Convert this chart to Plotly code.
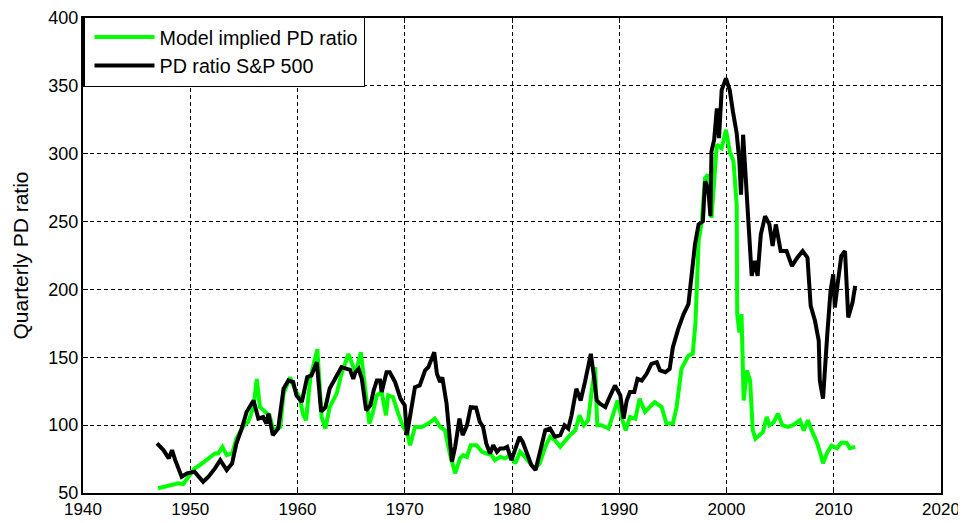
import plotly.graph_objects as go

# Data
sp_years = [1946.9, 1947.5, 1948.0, 1948.3, 1948.6, 1949.2, 1949.7, 1950.4, 1951.2, 1951.7,
            1952.3, 1952.8, 1953.4, 1953.9, 1954.3, 1954.8, 1955.25, 1955.9, 1956.35, 1956.8,
            1957.1, 1957.3, 1957.7, 1958.2, 1958.7, 1959.15, 1959.6, 1959.9, 1960.4, 1960.9,
            1961.3, 1961.5, 1961.8, 1962.2, 1962.6, 1963.0, 1963.35, 1964.1, 1964.9, 1965.2,
            1965.4, 1965.7, 1966.0, 1966.4, 1966.8, 1967.1, 1967.4, 1967.7, 1967.85, 1968.3,
            1968.6, 1969.1, 1969.6, 1970.0, 1970.2, 1970.5, 1970.95, 1971.4, 1971.9, 1972.2,
            1972.45, 1972.75, 1973.0, 1973.3, 1973.5, 1973.9, 1974.4, 1974.7, 1975.1, 1975.4,
            1975.8, 1976.15, 1976.65, 1977.0, 1977.3, 1977.6, 1977.95, 1978.25, 1978.6, 1978.9,
            1979.25, 1979.55, 1979.95, 1980.3, 1980.7, 1981.0, 1981.4, 1981.8, 1982.2, 1982.7,
            1983.1, 1983.55, 1984.0, 1984.5, 1984.9, 1985.25, 1985.55, 1986.0, 1986.4, 1986.8,
            1987.1, 1987.35, 1987.65, 1987.9, 1988.2, 1988.7, 1989.1, 1989.6, 1990.1, 1990.4,
            1990.7, 1991.0, 1991.4, 1991.7, 1992.1, 1992.55, 1993.0, 1993.5, 1993.8, 1994.3,
            1994.7, 1995.0, 1995.5, 1996.0, 1996.45, 1997.06, 1997.4, 1997.8, 1998.0, 1998.3,
            1998.5, 1998.6, 1998.85, 1999.1, 1999.3, 1999.55, 1999.95, 2000.3, 2000.6, 2000.95,
            2001.2, 2001.35, 2001.55, 2001.8, 2002.0, 2002.35, 2002.65, 2002.9, 2003.2, 2003.6,
            2004.0, 2004.3, 2004.6, 2005.05, 2005.6, 2006.1, 2006.6, 2007.1, 2007.55, 2007.85,
            2008.25, 2008.6, 2008.7, 2009.0, 2009.4, 2009.7, 2009.95, 2010.1, 2010.4, 2010.7,
            2011.05, 2011.35, 2011.75, 2012.0]
sp_values = [86.5, 81.6, 75.5, 81.6, 74.2, 62.0, 64.5, 65.7, 58.3, 62.0,
             68.1, 74.2, 66.9, 71.8, 86.5, 97.5, 109.7, 118.2, 104.8, 106.0,
             101.2, 108.5, 92.6, 97.5, 126.8, 132.9, 131.7, 121.9, 117.0, 135.3,
             136.6, 140.0, 146.4, 110.0, 113.0, 127.0, 131.7, 142.7, 140.8, 134.1,
             139.0, 141.5, 134.1, 110.9, 114.6, 125.6, 132.9, 132.9, 124.4, 139.0,
             139.0, 131.7, 119.5, 114.6, 92.6, 108.5, 128.0, 129.2, 140.3, 142.7,
             147.6, 153.7, 137.8, 131.7, 135.3, 115.8, 72.9, 84.0, 104.8, 92.6,
             99.9, 113.3, 112.9, 102.4, 98.7, 86.5, 79.1, 85.2, 80.3, 82.8,
             82.8, 84.0, 74.2, 82.8, 91.3, 87.6, 79.1, 70.6, 66.9, 82.8,
             96.2, 97.5, 91.3, 92.6, 99.9, 97.5, 107.2, 126.8, 118.2, 131.7,
             145.2, 152.5, 135.3, 118.2, 115.8, 113.3, 120.7, 129.2, 121.9, 104.8,
             118.2, 124.4, 124.4, 134.1, 132.9, 137.8, 145.2, 146.4, 140.3, 139.0,
             141.5, 157.4, 170.9, 181.8, 189.2, 233.2, 247.9, 250.3, 279.7, 273.6,
             254.0, 301.7, 310.3, 333.4, 311.5, 346.9, 355.5, 346.9, 331.0, 315.1,
             294.3, 269.9, 314.0, 280.0, 250.0, 210.0, 221.0, 210.0, 240.6, 254.0,
             247.9, 232.0, 247.9, 228.3, 228.3, 217.3, 223.4, 228.3, 223.4, 187.9,
             176.9, 162.3, 132.9, 119.5, 167.2, 198.9, 211.2, 186.7, 206.3, 224.6,
             228.3, 179.4, 190.4, 202.6]

model_years = [1947.0, 1947.8, 1948.4, 1948.9, 1949.35, 1949.8, 1950.4, 1950.9, 1951.7, 1952.3,
               1952.6, 1953.0, 1953.4, 1953.9, 1954.3, 1954.9, 1955.4, 1955.9, 1956.2, 1956.5,
               1957.0, 1957.4, 1957.75, 1958.4, 1958.7, 1959.3, 1959.8, 1960.2, 1960.5, 1960.8,
               1961.2, 1961.85, 1962.25, 1962.6, 1963.0, 1963.65, 1964.1, 1964.75, 1965.2, 1965.45,
               1965.9, 1966.3, 1966.7, 1967.0, 1967.4, 1967.85, 1968.25, 1968.45, 1968.9, 1969.4,
               1969.85, 1970.2, 1970.5, 1970.95, 1971.6, 1972.2, 1972.8, 1973.3, 1973.75, 1974.2,
               1974.7, 1975.15, 1975.45, 1975.8, 1976.15, 1976.7, 1977.2, 1977.65, 1978.1, 1978.4,
               1978.9, 1979.35, 1979.8, 1980.3, 1980.75, 1981.2, 1981.7, 1982.1, 1982.6, 1983.1,
               1983.55, 1984.0, 1984.5, 1984.95, 1985.4, 1985.9, 1986.3, 1986.7, 1987.1, 1987.4,
               1987.75, 1987.95, 1988.35, 1989.0, 1989.45, 1989.85, 1990.2, 1990.6, 1991.0, 1991.5,
               1991.9, 1992.4, 1993.3, 1993.95, 1994.4, 1995.0, 1995.35, 1995.8, 1996.45, 1996.85,
               1997.1, 1997.2, 1997.4, 1997.7, 1998.0, 1998.3, 1998.6, 1998.85, 1999.1, 1999.55,
               1999.95, 2000.3, 2000.65, 2000.95, 2001.0, 2001.2, 2001.4, 2001.6, 2001.9, 2002.2,
               2002.45, 2002.7, 2003.0, 2003.4, 2003.75, 2004.0, 2004.4, 2004.8, 2005.2, 2005.7,
               2006.2, 2006.85, 2007.2, 2007.6, 2008.0, 2008.4, 2008.8, 2009.0, 2009.4, 2009.8,
               2010.3, 2010.7, 2011.2, 2011.5, 2012.0]
model_values = [53.5, 54.7, 55.9, 57.1, 56.6, 62.0, 68.1, 70.6, 75.5, 79.1,
                79.1, 84.0, 77.9, 79.1, 90.1, 98.7, 102.4, 113.3, 134.1, 113.3,
                109.7, 107.2, 96.2, 98.7, 123.2, 135.3, 125.6, 120.7, 108.5, 103.6,
                135.0, 156.0, 106.0, 97.5, 113.3, 123.2, 137.8, 152.5, 142.7, 139.0,
                153.7, 128.0, 101.2, 108.5, 121.9, 124.4, 107.2, 121.9, 120.7, 108.5,
                98.7, 95.0, 85.2, 98.7, 98.7, 101.2, 104.8, 98.7, 96.2, 79.1,
                64.5, 75.5, 77.9, 76.6, 85.2, 85.2, 80.3, 79.1, 77.9, 74.2,
                76.6, 75.5, 77.9, 71.8, 80.3, 76.6, 71.8, 68.1, 72.0, 84.0,
                91.3, 88.9, 84.0, 88.9, 92.6, 96.2, 107.2, 99.9, 103.6, 123.2,
                142.7, 99.9, 99.9, 97.5, 108.5, 118.2, 106.0, 96.2, 106.0, 104.8,
                119.5, 109.7, 117.0, 113.3, 101.2, 101.2, 113.3, 141.5, 151.3, 152.5,
                174.5, 191.6, 235.6, 250.3, 282.1, 284.6, 252.8, 279.7, 306.6, 304.1,
                317.6, 301.7, 294.3, 262.6, 181.8, 168.3, 181.8, 118.2, 140.3, 132.9,
                96.2, 90.0, 92.0, 95.0, 106.0, 100.0, 102.0, 108.5, 100.0, 98.7,
                100.0, 103.6, 96.0, 103.6, 95.0, 88.0, 78.0, 72.0, 80.0, 85.0,
                83.0, 87.0, 87.0, 83.0, 84.0]

x_ticks = [1940, 1950, 1960, 1970, 1980, 1990, 2000, 2010, 2020]
y_ticks = [50, 100, 150, 200, 250, 300, 350, 400]

FONT = "Liberation Sans, Arial, sans-serif"

fig = go.Figure()
fig.add_trace(go.Scatter(x=model_years, y=model_values, mode="lines",
                         name="Model implied PD ratio",
                         line=dict(color="#00ff00", width=4)))
fig.add_trace(go.Scatter(x=sp_years, y=sp_values, mode="lines",
                         name="PD ratio S&P 500",
                         line=dict(color="#000000", width=4)))

axis_common = dict(showline=True, linecolor="black", linewidth=2, mirror="allticks",
                   ticks="inside", ticklen=5, tickcolor="black", tickwidth=1,
                   showgrid=True, gridcolor="black", gridwidth=1, griddash="4px,3px",
                   zeroline=False, automargin=False)

fig.update_xaxes(range=[1940, 2020], tickvals=x_ticks,
                 tickfont=dict(family=FONT, size=17, color="black"), **axis_common)
fig.update_yaxes(range=[50, 400], tickvals=y_ticks,
                 tickfont=dict(family=FONT, size=18, color="black"),
                 ticklabelstandoff=-1,
                 title=dict(text="Quarterly PD ratio", font=dict(family=FONT, size=21, color="black"),
                            standoff=14),
                 **axis_common)

# the page body adds an 8px offset, so the figure is 8px smaller than the window
fig.update_layout(
    width=958, height=515,
    margin=dict(l=75, r=25, t=8, b=30),
    paper_bgcolor="white", plot_bgcolor="white",
    font=dict(family=FONT, size=16, color="black"),
    legend=dict(x=0, y=1.004, xanchor="left", yanchor="top",
                bgcolor="white", bordercolor="black", borderwidth=1.5,
                font=dict(family=FONT, size=19.7, color="black"),
                tracegroupgap=0, itemwidth=60, indentation=5),
    showlegend=True,
)

fig.write_html("out.html")
